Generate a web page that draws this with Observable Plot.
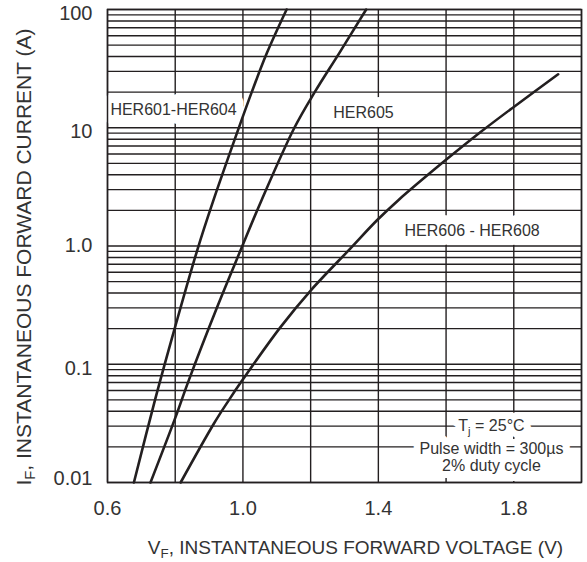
<!DOCTYPE html>
<html><head><meta charset="utf-8">
<script src="https://cdn.jsdelivr.net/npm/d3@7"></script>
<script src="https://cdn.jsdelivr.net/npm/@observablehq/plot@0.6"></script>
<style>body{margin:0;background:#fff;}</style>
</head><body><div id="chart"></div>
<script>
// Forward characteristic curves (V_F in volts, I_F in amperes)
const her601V = [0.678, 0.740, 0.801, 0.865, 0.913, 0.988, 1.026, 1.071, 1.129];
const her601I = [0.01, 0.0495, 0.213, 0.92, 2.44, 10, 20, 43, 100];
const her605V = [0.727, 0.801, 0.840, 0.924, 0.993, 1.055, 1.152, 1.212, 1.285, 1.364];
const her605I = [0.01, 0.0357, 0.0731, 0.305, 0.92, 2.44, 10, 20, 43, 100];
const her606V = [0.816, 0.914, 0.958, 0.998, 1.111, 1.200, 1.317, 1.396, 1.459, 1.598, 1.702, 1.800, 1.931];
const her606I = [0.01, 0.0314, 0.0495, 0.0731, 0.206, 0.42, 0.95, 1.65, 2.44, 5.3, 9.2, 15.0, 28.3];

const xGrid = [0.6, 0.8, 1.0, 1.2, 1.4, 1.6, 1.8, 2.0];
const xTicks = [0.6, 1.0, 1.4, 1.8];
const yTicks = [0.01, 0.1, 1, 10, 100];
const yTickLabels = ["0.01", "0.1", "1.0", "10", "100"];
const yTicksLow = [100, 10, 0.1];   // labels sitting slightly below their line
const yTicksMid = [1];
const yTicksHigh = [0.01];
const yMultiples = [1, 2, 3, 4, 5, 6, 7, 8, 9];
const yDecades = [0.01, 0.1, 1, 10];

const curveNames = ["HER601-HER604", "HER605", "HER606 - HER608"];
const labelV = [0.795, 1.356, 1.677];
const labelI = [14.1, 13.3, 1.34];
const noteText = ["T_j = 25°C", "Pulse width = 300µs", "2% duty cycle"];
const noteV = [1.734, 1.734, 1.734];
const noteI = [0.0304, 0.0194, 0.01395];
const xTitle = "V_F, INSTANTANEOUS FORWARD VOLTAGE (V)";
const yTitle = "I_F, INSTANTANEOUS FORWARD CURRENT (A)";

// build tables
const yGrid = yDecades.flatMap(d => yMultiples.map(m => +(d * m).toPrecision(3))).concat([100]);
const series = [
  ...her601V.map((v, i) => ({name: curveNames[0], v, i: her601I[i]})),
  ...her605V.map((v, i) => ({name: curveNames[1], v, i: her605I[i]})),
  ...her606V.map((v, i) => ({name: curveNames[2], v, i: her606I[i]}))
];
const labels = curveNames.map((t, k) => ({t, v: labelV[k], i: labelI[k]}));
const notes = noteText.map((t, k) => ({t, v: noteV[k], i: noteI[k]}));

const ink = "#231f20";
const txt = "#333";
const yFmt = d => yTickLabels[yTicks.indexOf(d)];

const chart = Plot.plot({
  width: 587, height: 562,
  marginLeft: 107, marginRight: 6, marginTop: 9, marginBottom: 80,
  style: {fontFamily: "'Liberation Sans', Arial, sans-serif", background: "#fff", color: txt},
  x: {domain: [0.6, 2.0]},
  y: {type: "log", domain: [0.01, 100]},
  marks: [
    Plot.ruleY(yGrid, {stroke: ink, strokeWidth: 1.4}),
    Plot.ruleX(xGrid, {stroke: ink, strokeWidth: 1.4}),
    Plot.text(labels, {x: "v", y: "i", text: "t", fontSize: 16, fill: "white", stroke: "white", strokeWidth: 18}),
    Plot.text(notes, {x: "v", y: "i", text: "t", fontSize: 16, fill: "white", stroke: "white", strokeWidth: 14}),
    Plot.line(series, {x: "v", y: "i", z: "name", stroke: ink, strokeWidth: 2.6, curve: "catmull-rom"}),
    Plot.frame({stroke: ink, strokeWidth: 1.5}),
    Plot.text(labels, {x: "v", y: "i", text: "t", fontSize: 16, fill: txt}),
    Plot.text(notes, {x: "v", y: "i", text: "t", fontSize: 16, fill: txt}),
    Plot.axisX(xTicks, {tickSize: 0, tickPadding: 18, fontSize: 20, label: null, tickFormat: d => d.toFixed(1), fill: txt}),
    Plot.axisY(yTicksLow, {tickSize: 0, tickPadding: 15, fontSize: 20, label: null, tickFormat: yFmt, fill: txt, dy: 4}),
    Plot.axisY(yTicksMid, {tickSize: 0, tickPadding: 15, fontSize: 20, label: null, tickFormat: yFmt, fill: txt}),
    Plot.axisY(yTicksHigh, {tickSize: 0, tickPadding: 15, fontSize: 20, label: null, tickFormat: yFmt, fill: txt, dy: -4}),
    Plot.text([xTitle], {frameAnchor: "bottom", dy: 71, dx: 11, fontSize: 19, fill: txt}),
    Plot.text([yTitle], {frameAnchor: "left", textAnchor: "middle", rotate: -90, dx: -83.5, dy: 11, fontSize: 21, fill: txt})
  ]
});
document.getElementById("chart").appendChild(chart);

// subscripts: "_X" -> X as subscript
const ns = "http://www.w3.org/2000/svg";
chart.querySelectorAll("text").forEach(el => {
  if (el.children.length) return;
  const s = el.textContent;
  const k = s.indexOf("_");
  if (k < 0) return;
  const pre = s.slice(0, k), sub = s.slice(k + 1, k + 2), post = s.slice(k + 2);
  el.textContent = "";
  const t1 = document.createElementNS(ns, "tspan"); t1.textContent = pre;
  const t2 = document.createElementNS(ns, "tspan"); t2.textContent = sub;
  t2.setAttribute("dy", "4"); t2.setAttribute("font-size", "70%");
  const t3 = document.createElementNS(ns, "tspan"); t3.textContent = post;
  t3.setAttribute("dy", "-4");
  el.append(t1, t2, t3);
});
</script>
</body></html>
